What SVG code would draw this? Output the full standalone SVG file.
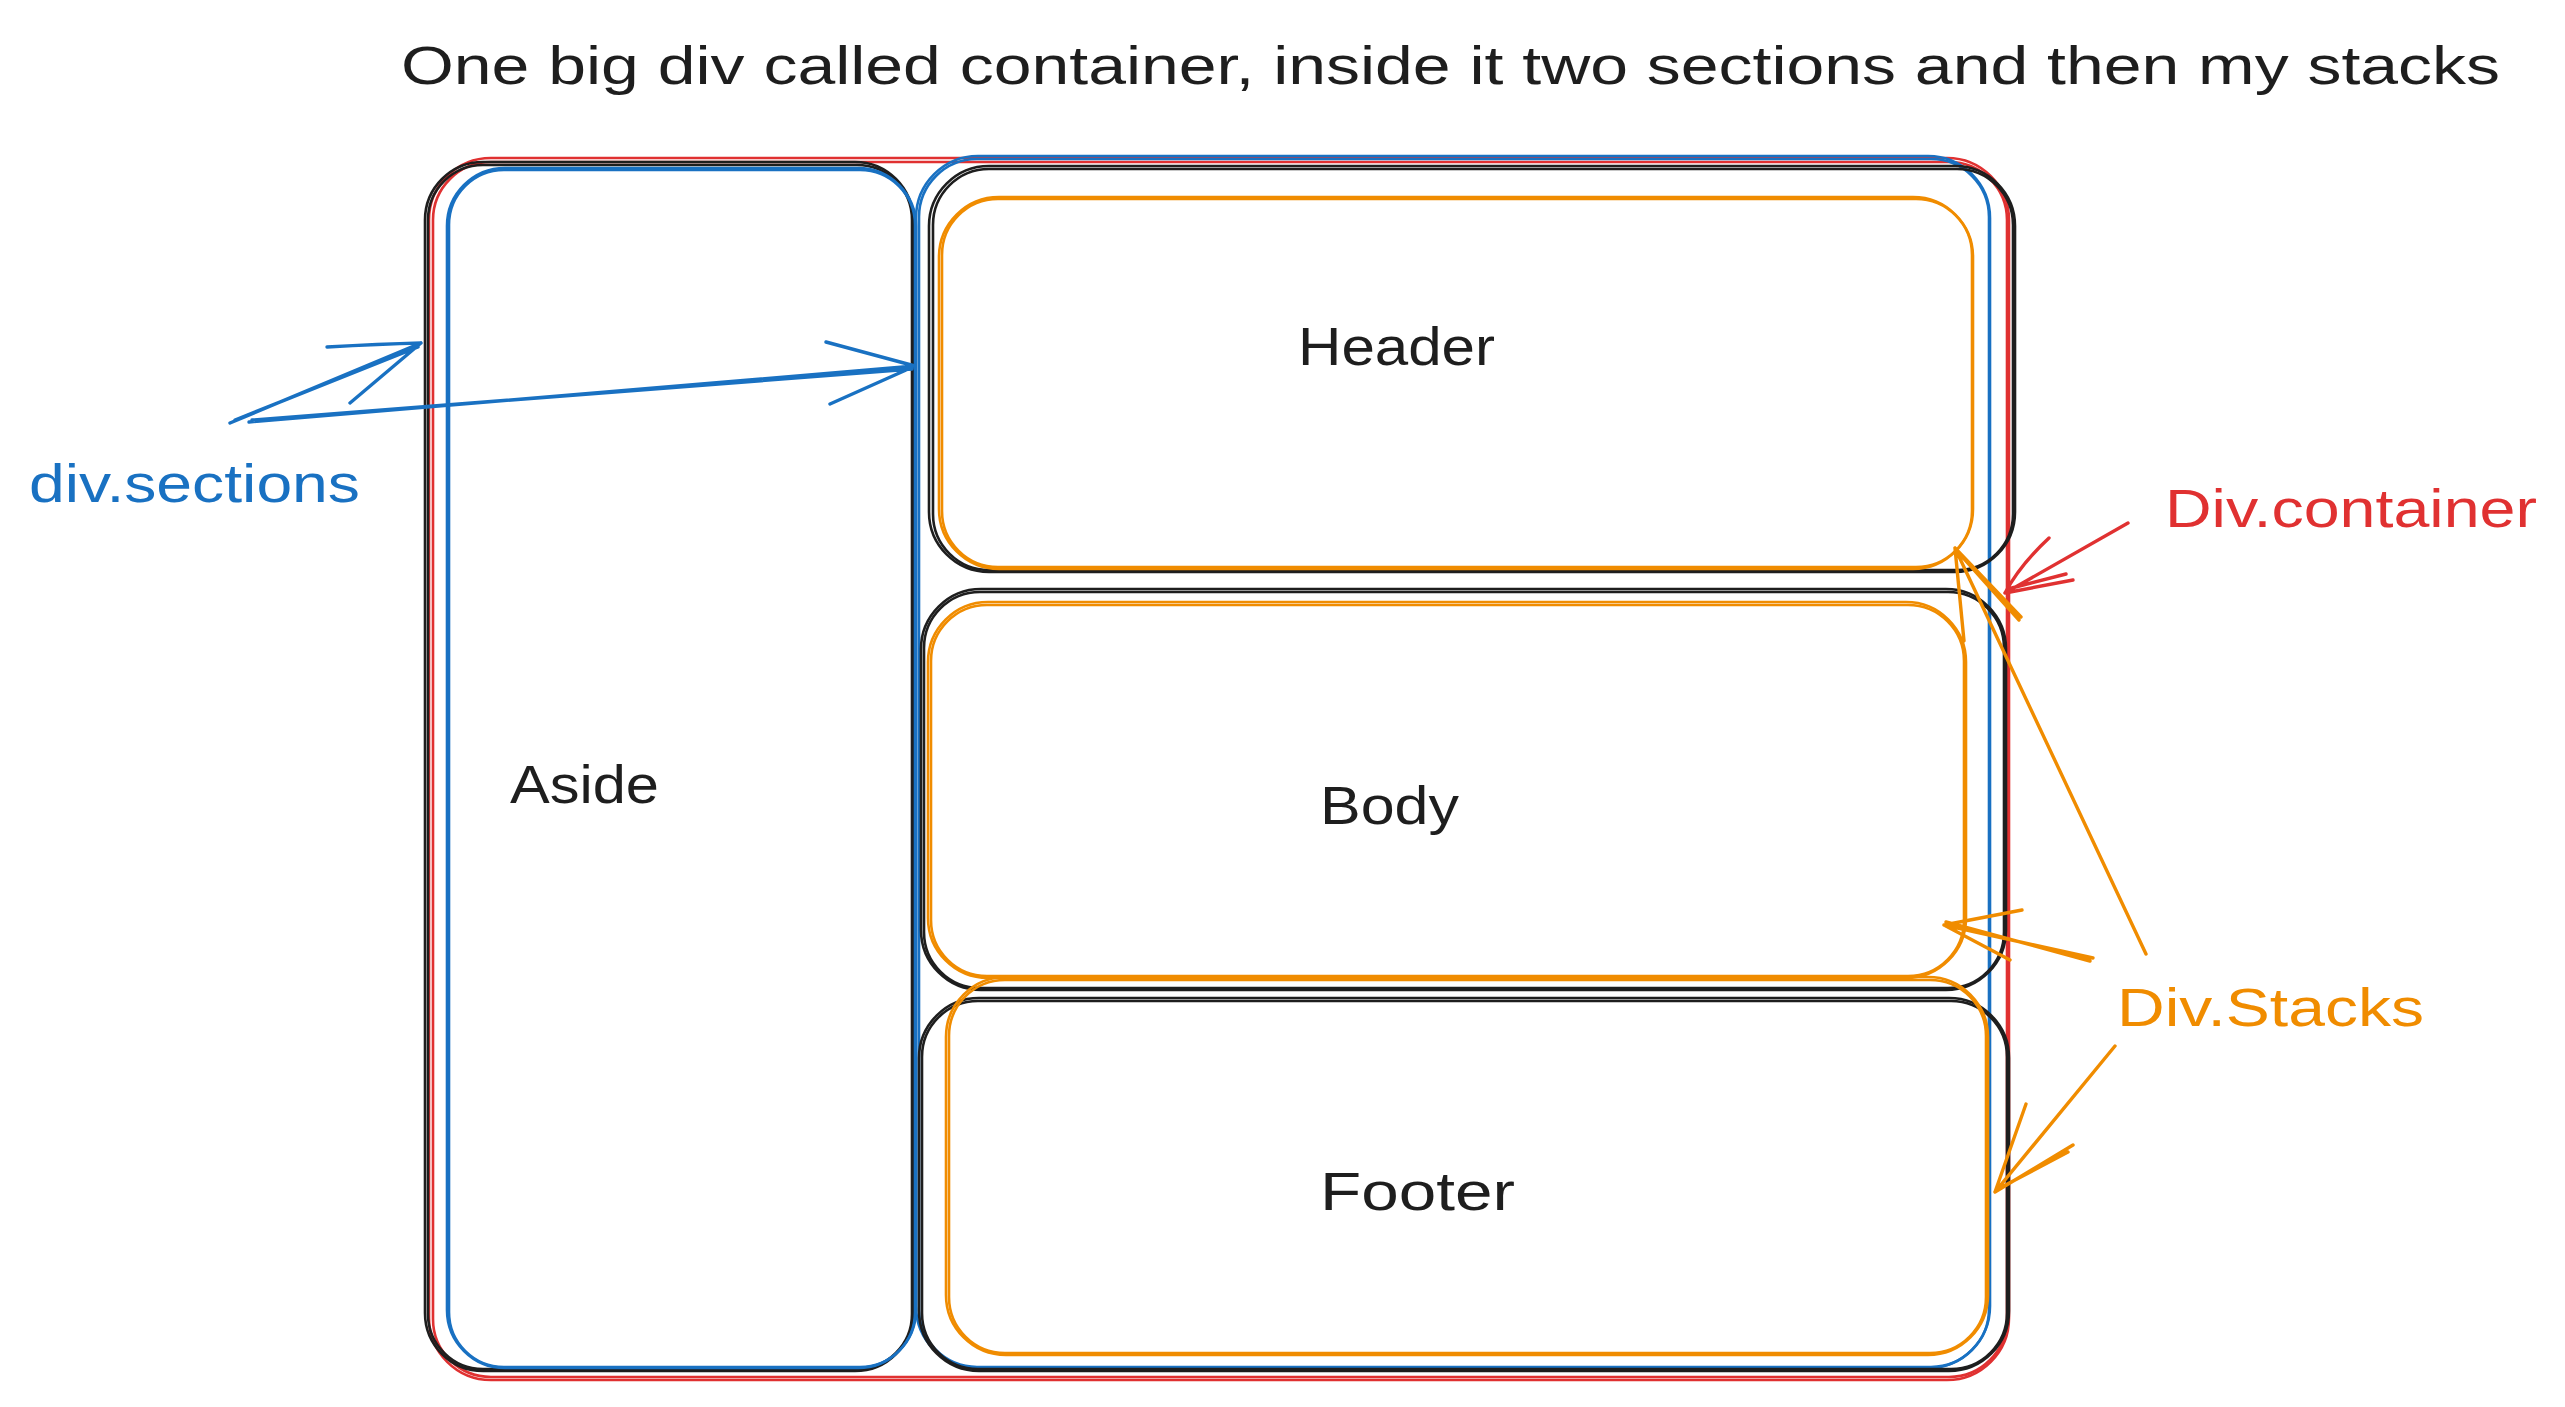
<svg xmlns="http://www.w3.org/2000/svg" width="2565" height="1407" viewBox="0 0 2565 1407">
<style>
.s{fill:none;stroke-width:2.6;stroke-linecap:round;stroke-linejoin:round}
.k{stroke:#1e1e1e}.b{stroke:#1971c2}.r{stroke:#e03131}.o{stroke:#f08c00}
.a{fill:none;stroke-width:3.4;stroke-linecap:round;stroke-linejoin:round}
text{font-family:"Liberation Sans","Noto Sans",sans-serif;font-size:54px}
.tk{fill:#1e1e1e}.tb{fill:#1971c2}.tr{fill:#e03131}.to{fill:#f08c00}
</style>
<rect width="2565" height="1407" fill="#ffffff"/>
<text x="401" y="84" class="tk" textLength="2099" lengthAdjust="spacingAndGlyphs">One big div called container, inside it two sections and then my stacks</text>

<g id="container">
<rect class="s r" x="429" y="158" width="1580" height="1222" rx="62"/>
<rect class="s r" x="433" y="162" width="1574" height="1215" rx="58"/>
</g>
<g id="aside">
<rect class="s k" x="425" y="162" width="488" height="1209" rx="58"/>
<rect class="s k" x="428" y="165" width="484" height="1204" rx="55"/>
<text x="510" y="803" class="tk" textLength="149" lengthAdjust="spacingAndGlyphs">Aside</text>
</g>
<g id="section-aside">
<rect class="s b" x="447" y="168" width="469" height="1200" rx="58"/>
<rect class="s b" x="449" y="170" width="466" height="1197" rx="55"/>
</g>
<g id="section-main">
<rect class="s b" x="916" y="156" width="1074" height="1212" rx="62"/>
<rect class="s b" x="919" y="159" width="1070" height="1208" rx="58"/>
</g>
<g id="header">
<rect class="s k" x="929" y="166" width="1086" height="406" rx="60"/>
<rect class="s k" x="933" y="169" width="1080" height="401" rx="56"/>
<rect class="s o" x="939" y="197" width="1034" height="372" rx="60"/>
<rect class="s o" x="942" y="199" width="1030" height="368" rx="56"/>
<text x="1298" y="365" class="tk" textLength="197" lengthAdjust="spacingAndGlyphs">Header</text>
</g>
<g id="body">
<rect class="s k" x="921" y="589" width="1085" height="401" rx="60"/>
<rect class="s k" x="924" y="592" width="1080" height="396" rx="56"/>
<rect class="s o" x="928" y="602" width="1038" height="376" rx="60"/>
<rect class="s o" x="931" y="605" width="1033" height="371" rx="56"/>
<text x="1320" y="824" class="tk" textLength="139" lengthAdjust="spacingAndGlyphs">Body</text>
</g>
<g id="footer">
<rect class="s k" x="919" y="998" width="1090" height="373" rx="60"/>
<rect class="s k" x="922" y="1001" width="1085" height="368" rx="56"/>
<rect class="s o" x="946" y="977" width="1042" height="378" rx="60"/>
<rect class="s o" x="949" y="980" width="1037" height="373" rx="56"/>
<text x="1320" y="1210" class="tk" textLength="195" lengthAdjust="spacingAndGlyphs">Footer</text>
</g>

<g id="labels">
<text x="29" y="502" class="tb" textLength="331" lengthAdjust="spacingAndGlyphs">div.sections</text>
<text x="2165" y="527" class="tr" textLength="372" lengthAdjust="spacingAndGlyphs">Div.container</text>
<text x="2117" y="1026" class="to" textLength="307" lengthAdjust="spacingAndGlyphs">Div.Stacks</text>
</g>

<g id="connectors">
<path class="a b" d="M230 423 L421 343 M235 420 L418 347 M327 347 Q380 344 421 343 M350 403 L421 343"/>
<path class="a b" d="M249 422 L915 366 M252 420 L912 369 M826 342 L915 366 M830 404 L915 366"/>
<path class="a r" d="M2128 523 L2005 593 M2049 538 Q2020 565 2005 593 M2073 580 L2005 593 M2066 574 L2008 589"/>
<path class="a o" d="M2146 954 L1955 548 M1964 641 L1955 548 M2021 617 L1955 548 M2019 620 L1958 552"/>
<path class="a o" d="M2093 958 L1944 925 M2090 961 L1946 922 M2022 910 L1944 925 M2010 960 L1944 925"/>
<path class="a o" d="M2115 1046 L1995 1192 M2026 1104 L1995 1192 M2073 1145 L1995 1192 M2068 1152 L1998 1189"/>
</g>
</svg>
